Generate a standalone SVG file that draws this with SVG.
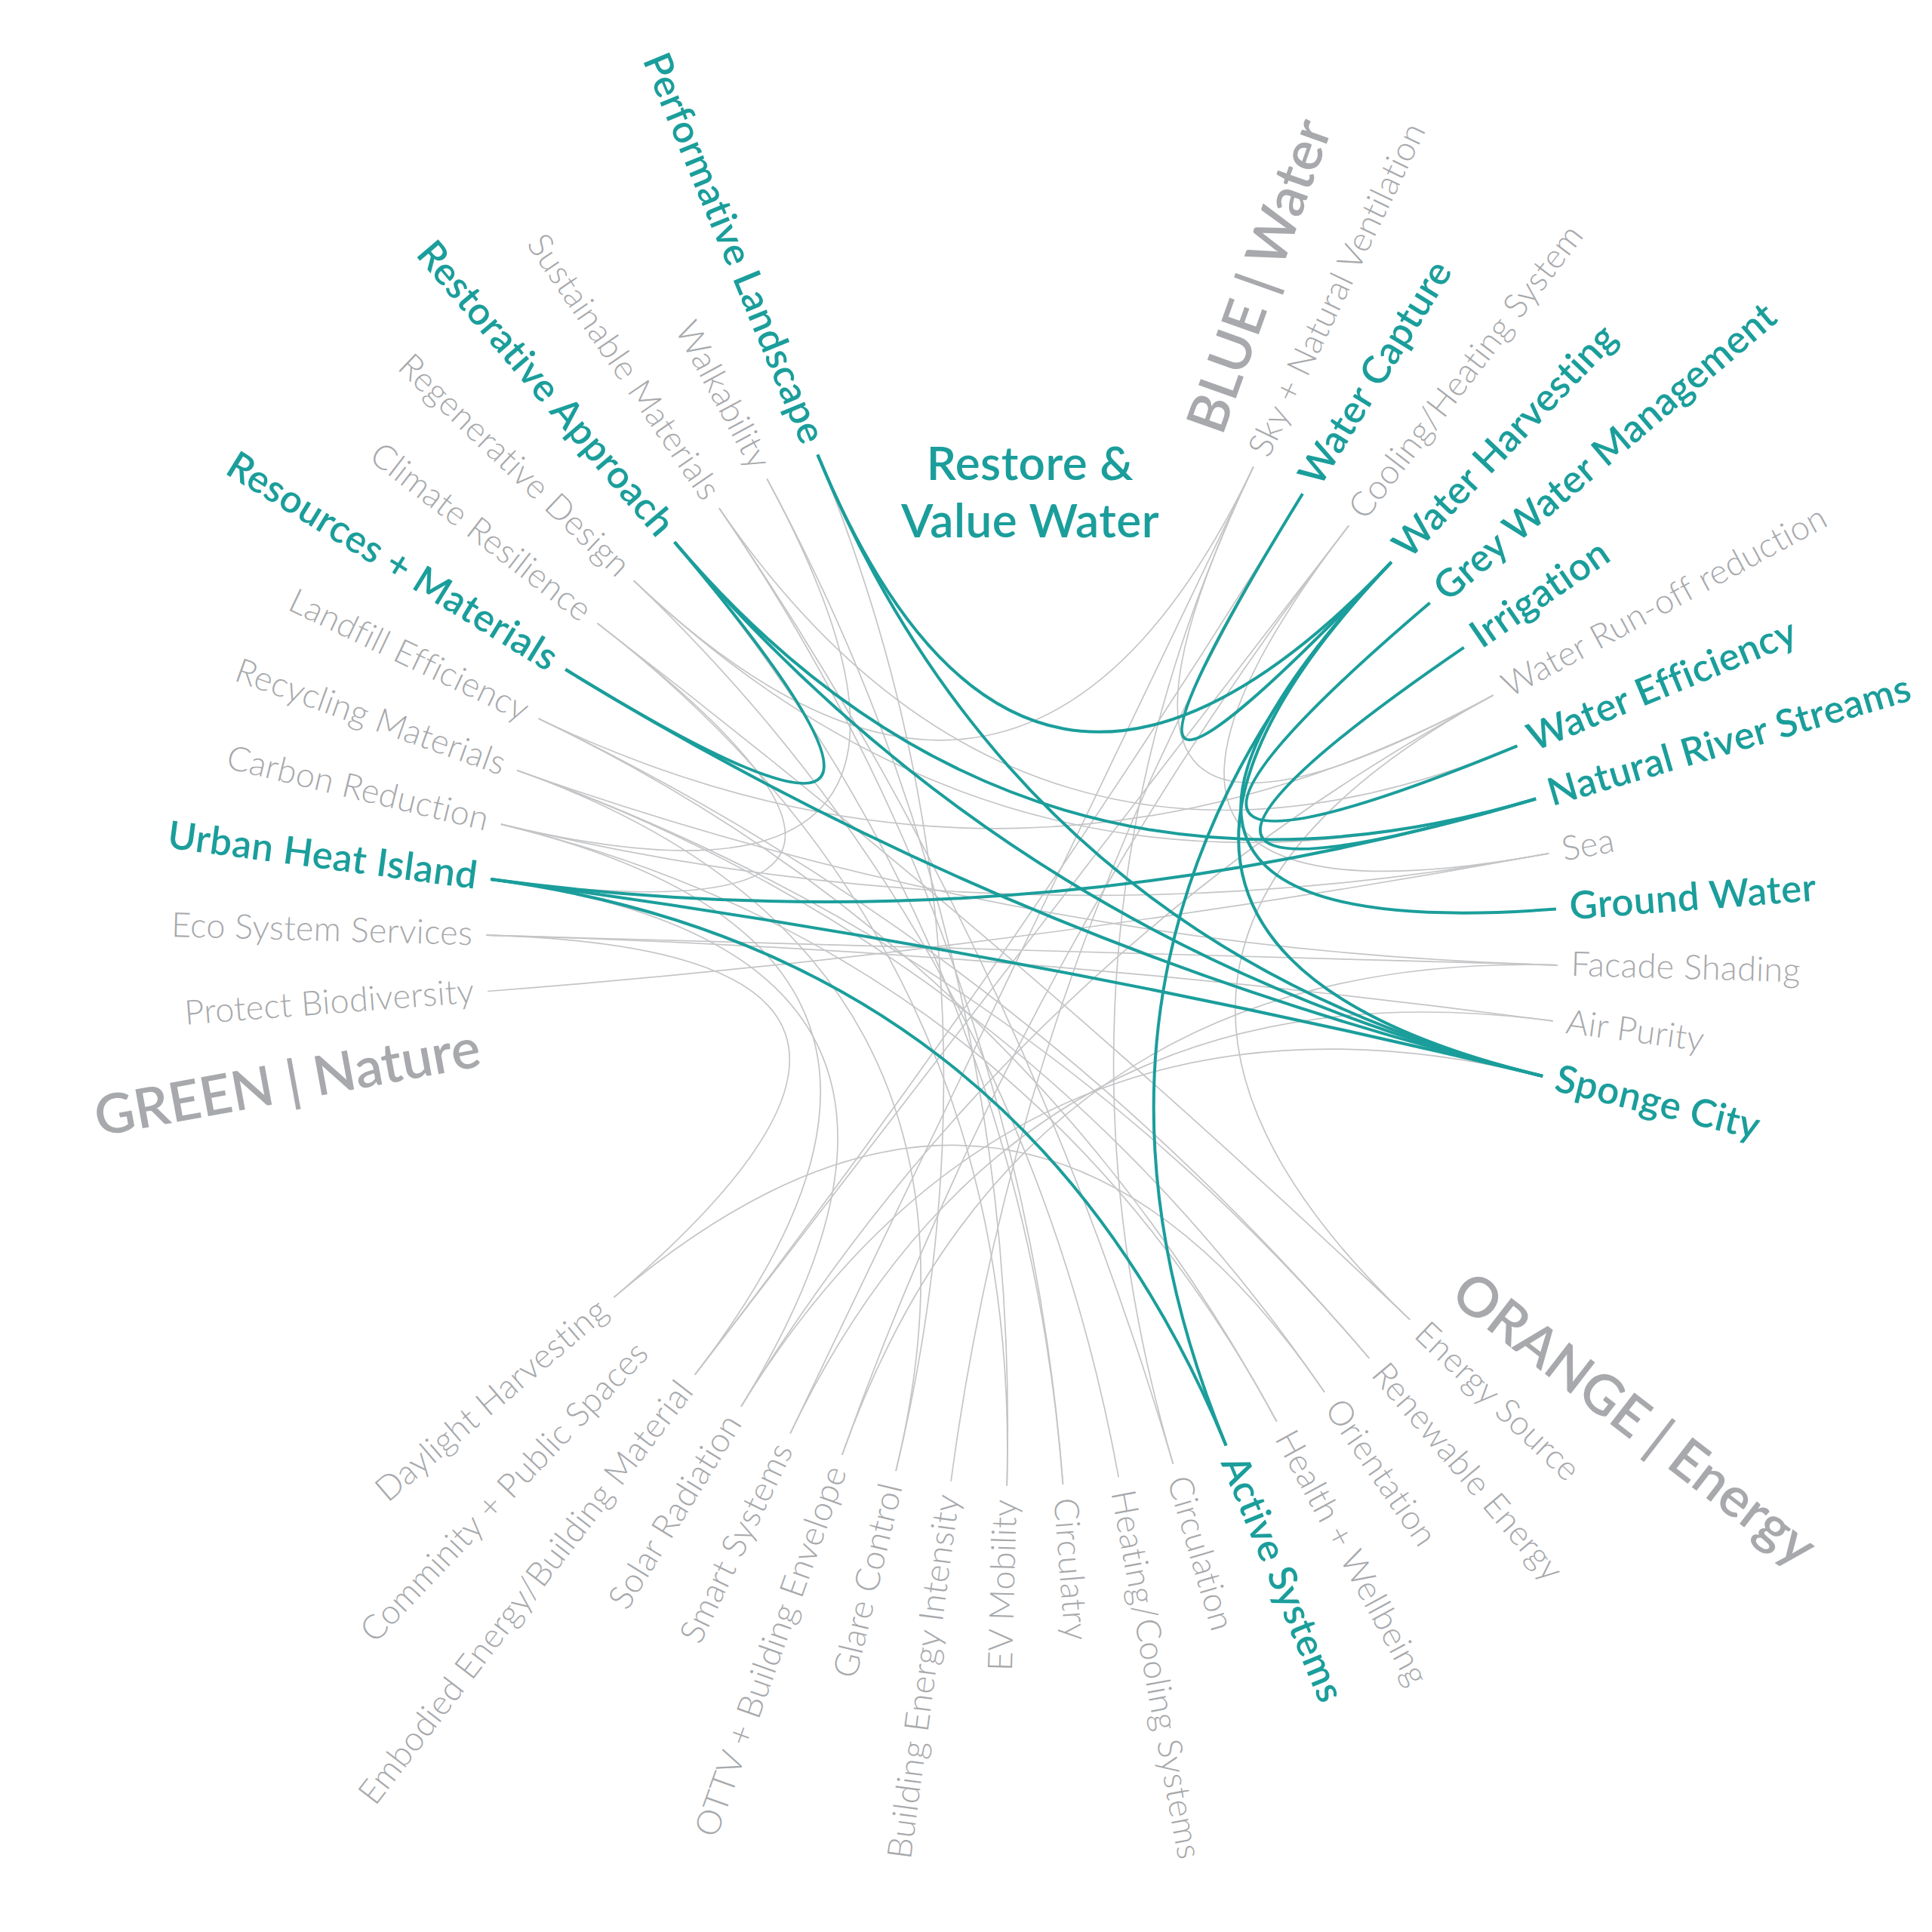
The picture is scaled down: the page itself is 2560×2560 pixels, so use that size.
<svg xmlns="http://www.w3.org/2000/svg" width="2560" height="2560" viewBox="0 0 2560 2560">
<style>
.e{fill:none;stroke:#c4c5c7;stroke-width:1.7}
.h{fill:none;stroke:#1b9e9b;stroke-width:4}
text{font-family:Lato,"Open Sans","Liberation Sans",sans-serif}
.g{font-size:45px;font-weight:300;fill:#a7a9ac;letter-spacing:0.3px}
.t{font-size:51px;font-weight:600;fill:#1b9e9b;letter-spacing:0.5px}
.grp{font-size:73px;font-weight:600;fill:#a7a9ac}
.title{font-size:62px;font-weight:600;fill:#1b9e9b;letter-spacing:0.5px}
</style>
<rect width="2560" height="2560" fill="#ffffff"/>
<g id="connectors">
<path class="e" d="M646.1,1313.5 C1116.7,1277.3 1588.1,1216.0 2052.3,1130.8"/>
<path class="e" d="M644.3,1239.2 C1116.1,1252.4 1172.8,1413.3 813.3,1719.2"/>
<path class="e" d="M644.3,1239.2 C1116.1,1252.4 1591.9,1265.6 2063.7,1278.8"/>
<path class="e" d="M644.3,1239.2 C1116.1,1252.4 1589.9,1290.5 2057.8,1352.9"/>
<path class="e" d="M663.9,1092.1 C1122.7,1203.0 1588.1,1216.0 2052.3,1130.8"/>
<path class="e" d="M663.9,1092.1 C1122.7,1203.0 1467.2,1468.4 1691.7,1883.5"/>
<path class="e" d="M663.9,1092.1 C1122.7,1203.0 1240.8,1049.6 1016.3,634.5"/>
<path class="e" d="M685.1,1020.8 C1129.8,1179.2 1591.9,1265.6 2063.7,1278.8"/>
<path class="e" d="M685.1,1020.8 C1129.8,1179.2 1508.3,1440.2 1814.2,1799.7"/>
<path class="e" d="M685.1,1020.8 C1129.8,1179.2 1488.5,1455.4 1755.1,1844.8"/>
<path class="e" d="M713.7,952.2 C1139.4,1156.2 1563.4,1145.8 1978.5,921.3"/>
<path class="e" d="M713.7,952.2 C1139.4,1156.2 1467.2,1468.4 1691.7,1883.5"/>
<path class="e" d="M713.7,952.2 C1139.4,1156.2 1508.3,1440.2 1814.2,1799.7"/>
<path class="e" d="M791.5,825.8 C1165.4,1113.8 1118.1,1227.5 650.2,1165.1"/>
<path class="e" d="M791.5,825.8 C1165.4,1113.8 1526.4,1423.1 1868.2,1748.6"/>
<path class="e" d="M839.8,769.4 C1181.6,1094.9 1582.3,1191.8 2035.1,1058.5"/>
<path class="e" d="M839.8,769.4 C1181.6,1094.9 1456.8,1044.4 1660.8,618.7"/>
<path class="e" d="M952.9,673.2 C1219.5,1062.6 1421.2,1487.3 1554.5,1940.1"/>
<path class="e" d="M952.9,673.2 C1219.5,1062.6 1574.0,1168.3 2010.4,988.4"/>
<path class="e" d="M952.9,673.2 C1219.5,1062.6 1372.3,1496.3 1408.5,1966.9"/>
<path class="e" d="M1016.3,634.5 C1240.8,1049.6 1347.4,1496.9 1334.2,1968.7"/>
<path class="e" d="M1660.8,618.7 C1456.8,1044.4 1563.4,1145.8 1978.5,921.3"/>
<path class="e" d="M1660.8,618.7 C1456.8,1044.4 1421.2,1487.3 1554.5,1940.1"/>
<path class="e" d="M1260.1,1962.8 C1322.5,1494.9 1478.7,1056.3 1726.0,654.3"/>
<path class="e" d="M1787.2,696.5 C1499.2,1070.4 1588.1,1216.0 2052.3,1130.8"/>
<path class="e" d="M1787.2,696.5 C1499.2,1070.4 1208.8,1447.6 920.8,1821.5"/>
<path class="e" d="M1726.0,654.3 C1478.7,1056.3 1208.8,1447.6 920.8,1821.5"/>
<path class="e" d="M1978.5,921.3 C1563.4,1145.8 1526.4,1423.1 1868.2,1748.6"/>
<path class="e" d="M1978.5,921.3 C1563.4,1145.8 1229.3,1461.7 982.0,1863.7"/>
<path class="e" d="M1755.1,1844.8 C1488.5,1455.4 1172.8,1413.3 813.3,1719.2"/>
<path class="e" d="M2057.8,1352.9 C1589.9,1290.5 1251.2,1473.6 1047.2,1899.3"/>
<path class="e" d="M2063.7,1278.8 C1591.9,1265.6 1274.2,1483.2 1115.8,1927.9"/>
<path class="e" d="M1187.1,1949.1 C1298.0,1490.3 1263.3,1039.0 1083.4,602.6"/>
<path class="e" d="M1115.8,1927.9 C1274.2,1483.2 1499.2,1070.4 1787.2,696.5"/>
<path class="e" d="M920.8,1821.5 C1208.8,1447.6 1122.7,1203.0 663.9,1092.1"/>
<path class="e" d="M1482.2,1957.3 C1397.0,1493.1 1181.6,1094.9 839.8,769.4"/>
<path class="e" d="M1408.5,1966.9 C1372.3,1496.3 1199.7,1077.8 893.8,718.3"/>
<path class="e" d="M982.0,1863.7 C1229.3,1461.7 1118.1,1227.5 650.2,1165.1"/>
<path class="e" d="M1334.2,1968.7 C1347.4,1496.9 1165.4,1113.8 791.5,825.8"/>
<path class="e" d="M1187.1,1949.1 C1298.0,1490.3 1129.8,1179.2 685.1,1020.8"/>
<path class="e" d="M1047.2,1899.3 C1251.2,1473.6 1456.8,1044.4 1660.8,618.7"/>
<path class="e" d="M2044.1,1425.9 C1585.3,1315.0 1229.3,1461.7 982.0,1863.7"/>
<path class="h" d="M1083.4,602.6 C1263.3,1039.0 1518.1,1086.6 1843.6,744.8"/>
<path class="h" d="M1083.4,602.6 C1263.3,1039.0 1585.3,1315.0 2044.1,1425.9"/>
<path class="h" d="M1726.0,654.3 C1478.7,1056.3 1518.1,1086.6 1843.6,744.8"/>
<path class="h" d="M893.8,718.3 C1199.7,1077.8 1151.3,1134.3 749.3,887.0"/>
<path class="h" d="M893.8,718.3 C1199.7,1077.8 1582.3,1191.8 2035.1,1058.5"/>
<path class="h" d="M893.8,718.3 C1199.7,1077.8 1585.3,1315.0 2044.1,1425.9"/>
<path class="h" d="M749.3,887.0 C1151.3,1134.3 1585.3,1315.0 2044.1,1425.9"/>
<path class="h" d="M650.2,1165.1 C1118.1,1227.5 1582.3,1191.8 2035.1,1058.5"/>
<path class="h" d="M650.2,1165.1 C1118.1,1227.5 1585.3,1315.0 2044.1,1425.9"/>
<path class="h" d="M650.2,1165.1 C1118.1,1227.5 1444.7,1479.0 1624.6,1915.4"/>
<path class="h" d="M1843.6,744.8 C1518.1,1086.6 1585.3,1315.0 2044.1,1425.9"/>
<path class="h" d="M1843.6,744.8 C1518.1,1086.6 1591.3,1240.7 2061.9,1204.5"/>
<path class="h" d="M1894.7,798.8 C1535.2,1104.7 1574.0,1168.3 2010.4,988.4"/>
<path class="h" d="M1939.8,857.9 C1550.4,1124.5 1582.3,1191.8 2035.1,1058.5"/>
<path class="h" d="M1624.6,1915.4 C1444.7,1479.0 1518.1,1086.6 1843.6,744.8"/>
</g>
<g id="nodes" transform="translate(1354,1259)">
<g id="n-facade"><text class="g" transform="rotate(1.6) translate(728,0)" dy="0.3em">Facade Shading</text></g>
<g id="n-air"><text class="g" transform="rotate(7.6) translate(728,0)" dy="0.3em">Air Purity</text></g>
<g id="n-sponge"><text class="t" transform="rotate(13.6) translate(728,0)" dy="0.3em">Sponge City</text></g>
<g id="n-energysource"><text class="g" transform="rotate(43.6) translate(728,0)" dy="0.3em">Energy Source</text></g>
<g id="n-renewable"><text class="g" transform="rotate(49.6) translate(728,0)" dy="0.3em">Renewable Energy</text></g>
<g id="n-orientation"><text class="g" transform="rotate(55.6) translate(728,0)" dy="0.3em">Orientation</text></g>
<g id="n-health"><text class="g" transform="rotate(61.6) translate(728,0)" dy="0.3em">Health + Wellbeing</text></g>
<g id="n-active"><text class="t" transform="rotate(67.6) translate(728,0)" dy="0.3em">Active Systems</text></g>
<g id="n-circulation"><text class="g" transform="rotate(73.6) translate(728,0)" dy="0.3em">Circulation</text></g>
<g id="n-heatingcooling"><text class="g" transform="rotate(79.6) translate(728,0)" dy="0.3em">Heating/Cooling Systems</text></g>
<g id="n-circulatry"><text class="g" transform="rotate(85.6) translate(728,0)" dy="0.3em">Circulatry</text></g>
<g id="n-ev"><text class="g" transform="rotate(91.6) translate(728,0) rotate(180)" text-anchor="end" dy="0.3em">EV Mobility</text></g>
<g id="n-bei"><text class="g" transform="rotate(97.6) translate(728,0) rotate(180)" text-anchor="end" dy="0.3em">Building Energy Intensity</text></g>
<g id="n-glare"><text class="g" transform="rotate(103.6) translate(728,0) rotate(180)" text-anchor="end" dy="0.3em">Glare Control</text></g>
<g id="n-ottv"><text class="g" transform="rotate(109.6) translate(728,0) rotate(180)" text-anchor="end" dy="0.3em">OTTV + Building Envelope</text></g>
<g id="n-smart"><text class="g" transform="rotate(115.6) translate(728,0) rotate(180)" text-anchor="end" dy="0.3em">Smart Systems</text></g>
<g id="n-solar"><text class="g" transform="rotate(121.6) translate(728,0) rotate(180)" text-anchor="end" dy="0.3em">Solar Radiation</text></g>
<g id="n-embodied"><text class="g" transform="rotate(127.6) translate(728,0) rotate(180)" text-anchor="end" dy="0.3em">Embodied Energy/Building Material</text></g>
<g id="n-comminity"><text class="g" transform="rotate(133.6) translate(728,0) rotate(180)" text-anchor="end" dy="0.3em">Comminity + Public Spaces</text></g>
<g id="n-daylight"><text class="g" transform="rotate(139.6) translate(728,0) rotate(180)" text-anchor="end" dy="0.3em">Daylight Harvesting</text></g>
<g id="n-protect"><text class="g" transform="rotate(175.6) translate(728,0) rotate(180)" text-anchor="end" dy="0.3em">Protect Biodiversity</text></g>
<g id="n-eco"><text class="g" transform="rotate(181.6) translate(728,0) rotate(180)" text-anchor="end" dy="0.3em">Eco System Services</text></g>
<g id="n-urban"><text class="t" transform="rotate(187.6) translate(728,0) rotate(180)" text-anchor="end" dy="0.3em">Urban Heat Island</text></g>
<g id="n-carbon"><text class="g" transform="rotate(193.6) translate(728,0) rotate(180)" text-anchor="end" dy="0.3em">Carbon Reduction</text></g>
<g id="n-recycling"><text class="g" transform="rotate(199.6) translate(728,0) rotate(180)" text-anchor="end" dy="0.3em">Recycling Materials</text></g>
<g id="n-landfill"><text class="g" transform="rotate(205.6) translate(728,0) rotate(180)" text-anchor="end" dy="0.3em">Landfill Efficiency</text></g>
<g id="n-resources"><text class="t" transform="rotate(211.6) translate(728,0) rotate(180)" text-anchor="end" dy="0.3em">Resources + Materials</text></g>
<g id="n-climate"><text class="g" transform="rotate(217.6) translate(728,0) rotate(180)" text-anchor="end" dy="0.3em">Climate Resilience</text></g>
<g id="n-regenerative"><text class="g" transform="rotate(223.6) translate(728,0) rotate(180)" text-anchor="end" dy="0.3em">Regenerative Design</text></g>
<g id="n-restorative"><text class="t" transform="rotate(229.6) translate(728,0) rotate(180)" text-anchor="end" dy="0.3em">Restorative Approach</text></g>
<g id="n-sustainable"><text class="g" transform="rotate(235.6) translate(728,0) rotate(180)" text-anchor="end" dy="0.3em">Sustainable Materials</text></g>
<g id="n-walkability"><text class="g" transform="rotate(241.6) translate(728,0) rotate(180)" text-anchor="end" dy="0.3em">Walkability</text></g>
<g id="n-performative"><text class="t" transform="rotate(247.6) translate(728,0) rotate(180)" text-anchor="end" dy="0.3em">Performative Landscape</text></g>
<g id="n-sky"><text class="g" transform="rotate(295.6) translate(728,0)" dy="0.3em">Sky + Natural Ventilation</text></g>
<g id="n-watercapture"><text class="t" transform="rotate(301.6) translate(728,0)" dy="0.3em">Water Capture</text></g>
<g id="n-coolingheating"><text class="g" transform="rotate(307.6) translate(728,0)" dy="0.3em">Cooling/Heating System</text></g>
<g id="n-waterharvesting"><text class="t" transform="rotate(313.6) translate(728,0)" dy="0.3em">Water Harvesting</text></g>
<g id="n-greywater"><text class="t" transform="rotate(319.6) translate(728,0)" dy="0.3em">Grey Water Management</text></g>
<g id="n-irrigation"><text class="t" transform="rotate(325.6) translate(728,0)" dy="0.3em">Irrigation</text></g>
<g id="n-runoff"><text class="g" transform="rotate(331.6) translate(728,0)" dy="0.3em">Water Run-off reduction</text></g>
<g id="n-waterefficiency"><text class="t" transform="rotate(337.6) translate(728,0)" dy="0.3em">Water Efficiency</text></g>
<g id="n-river"><text class="t" transform="rotate(343.6) translate(728,0)" dy="0.3em">Natural River Streams</text></g>
<g id="n-sea"><text class="g" transform="rotate(349.6) translate(728,0)" dy="0.3em">Sea</text></g>
<g id="n-groundwater"><text class="t" transform="rotate(355.6) translate(728,0)" dy="0.3em">Ground Water</text></g>
<g id="grp-blue"><text class="grp" transform="rotate(289.6) translate(730,0)" dy="0.3em">BLUE | Water</text></g>
<g id="grp-orange"><text class="grp" transform="rotate(37.6) translate(730,0)" dy="0.3em">ORANGE | Energy</text></g>
<g id="grp-green"><text class="grp" transform="rotate(169.6) translate(730,0) rotate(180)" text-anchor="end" dy="0.3em">GREEN | Nature</text></g>
</g>
<g id="title">
<text class="title" x="1365" y="636" text-anchor="middle">Restore &amp;</text>
<text class="title" x="1365" y="712" text-anchor="middle">Value Water</text>
</g>
</svg>
